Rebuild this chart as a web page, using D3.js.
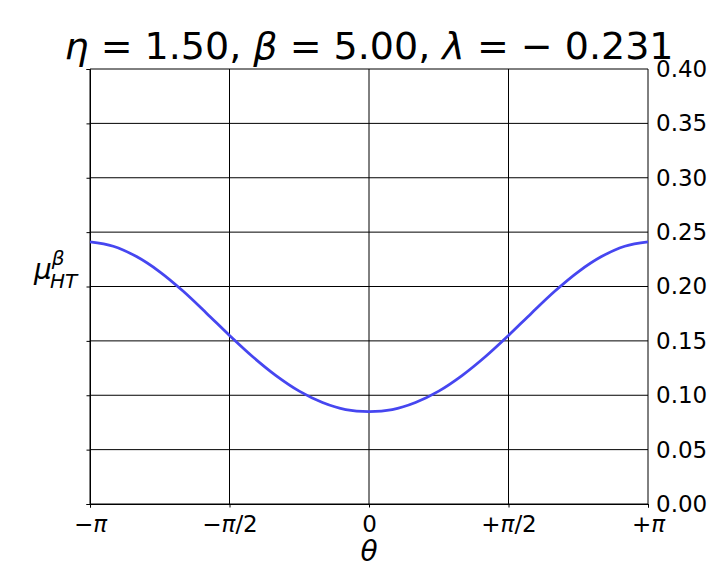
<!DOCTYPE html>
<html>
<head>
<meta charset="utf-8">
<script src="https://cdn.jsdelivr.net/npm/d3@7"></script>
<style>
  body { margin: 0; background: #fff; }
  text { font-family: "DejaVu Sans", sans-serif; fill: #000; }
</style>
</head>
<body>
<div id="content"></div>
<script>
// theta samples in steps of pi/12
var thetaSteps = d3.range(-12, 13);
var muValues = [0.241, 0.237, 0.2275, 0.2135, 0.1958, 0.1757, 0.155, 0.1354, 0.1181, 0.1038, 0.0933, 0.0868, 0.085,
                0.0868, 0.0933, 0.1038, 0.1181, 0.1354, 0.155, 0.1757, 0.1958, 0.2135, 0.2275, 0.237, 0.241];
var xTicks = [-Math.PI, -Math.PI / 2, 0, Math.PI / 2, Math.PI];
// [sign, symbol, suffix] for each x tick label
var xTickLabels = [["\u2212", "\u03c0", ""], ["\u2212", "\u03c0", "/2"], ["", "0", ""], ["+", "\u03c0", "/2"], ["+", "\u03c0", ""]];
var yTicks = [0, 0.05, 0.10, 0.15, 0.20, 0.25, 0.30, 0.35, 0.40];

var width = 720, height = 576;
var margin = {t: 69, r: 72, b: 72, l: 90};

var svg = d3.select("#content")
            .append("svg")
            .attr("width", width)
            .attr("height", height);

var scaleX = d3.scaleLinear().domain([-Math.PI, Math.PI]).range([margin.l, width - margin.r]);
var scaleY = d3.scaleLinear().domain([0, 0.40]).range([height - margin.b, margin.t]);

// grid
svg.append("g").selectAll("line")
   .data(xTicks).enter().append("line")
   .attr("x1", function(d) { return scaleX(d); })
   .attr("x2", function(d) { return scaleX(d); })
   .attr("y1", scaleY(0)).attr("y2", scaleY(0.40))
   .attr("stroke", "#000").attr("stroke-width", 1);
svg.append("g").selectAll("line")
   .data(yTicks).enter().append("line")
   .attr("y1", function(d) { return scaleY(d); })
   .attr("y2", function(d) { return scaleY(d); })
   .attr("x1", scaleX(-Math.PI)).attr("x2", scaleX(Math.PI))
   .attr("stroke", "#000").attr("stroke-width", 1);

// axes
var axisX = d3.axisBottom(scaleX).tickValues(xTicks).tickSize(3.5).tickFormat("");
var axisXG = svg.append("g")
                .attr("transform", "translate(0," + scaleY(0) + ")")
                .call(axisX);
axisXG.selectAll(".tick text")
      .attr("font-size", 23).attr("dy", "0.95em")
      .each(function(d, i) {
        var t = d3.select(this), parts = xTickLabels[i];
        t.append("tspan").text(parts[0]);
        t.append("tspan").attr("font-style", parts[1] == "0" ? "normal" : "italic").text(parts[1]);
        t.append("tspan").text(parts[2]);
      });

var axisYL = d3.axisLeft(scaleY).tickValues(yTicks).tickSize(3.5).tickFormat("");
svg.append("g")
   .attr("transform", "translate(" + scaleX(-Math.PI) + ",0)")
   .call(axisYL);

var axisYR = d3.axisRight(scaleY).tickValues(yTicks).tickSize(0).tickPadding(8)
               .tickFormat(d3.format(".2f"));
var axisYRG = svg.append("g")
                 .attr("transform", "translate(" + scaleX(Math.PI) + ",0)")
                 .call(axisYR);
axisYRG.select(".domain").remove();
axisYRG.selectAll("text").attr("font-size", 23);

svg.selectAll(".domain").attr("stroke", "#000");
svg.selectAll(".tick line").attr("stroke", "#000");
svg.selectAll("g").attr("font-family", null);

// curve
var line = d3.line()
             .x(function(d) { return scaleX(d * Math.PI / 12); })
             .y(function(d, i) { return scaleY(muValues[i]); })
             .curve(d3.curveCatmullRom);
svg.append("path")
   .datum(thetaSteps)
   .attr("d", line)
   .attr("fill", "none")
   .attr("stroke", "#4646f0")
   .attr("stroke-width", 2.8);

// title
var title = svg.append("text")
               .attr("x", 369).attr("y", 59)
               .attr("text-anchor", "middle")
               .attr("font-size", 38);
title.append("tspan").attr("font-style", "italic").text("\u03b7");
title.append("tspan").text(" = 1.50, ");
title.append("tspan").attr("font-style", "italic").text("\u03b2");
title.append("tspan").text(" = 5.00, ");
title.append("tspan").attr("font-style", "italic").text("\u03bb");
title.append("tspan").text(" =  \u2212 0.231");

// y label
var ylab = svg.append("text")
              .attr("x", 34).attr("y", 279)
              .attr("font-size", 28);
ylab.append("tspan").attr("font-style", "italic").text("\u03bc");
ylab.append("tspan").attr("font-style", "italic").attr("font-size", 20)
    .attr("dy", -14).text("\u03b2");
ylab.append("tspan").attr("font-style", "italic").attr("font-size", 20)
    .attr("x", 50).attr("dy", 23).text("HT");

// x label
svg.append("text")
   .attr("x", scaleX(0)).attr("y", 561)
   .attr("text-anchor", "middle")
   .attr("font-size", 28).attr("font-style", "italic")
   .text("\u03b8");
</script>
</body>
</html>
